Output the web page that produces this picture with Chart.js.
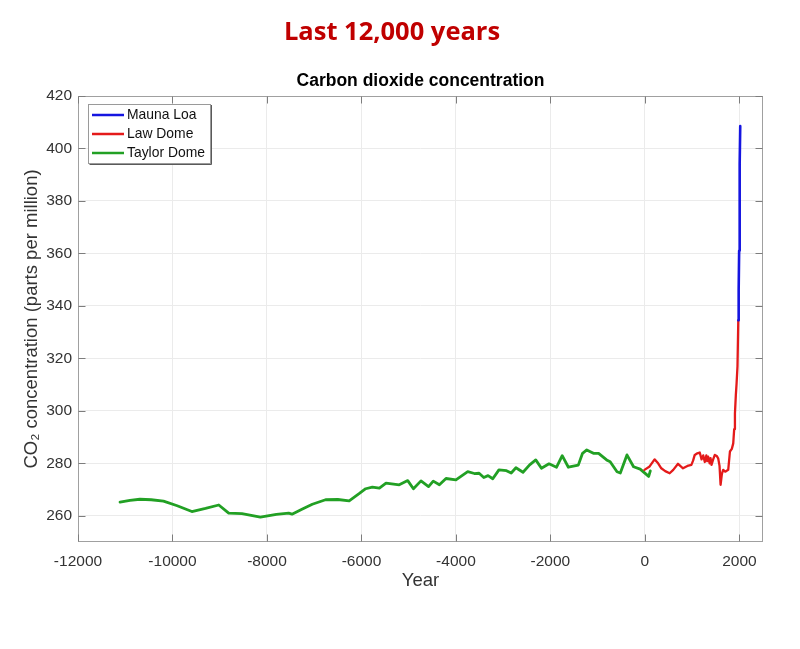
<!DOCTYPE html>
<html>
<head>
<meta charset="utf-8">
<title>Carbon dioxide concentration</title>
<script src="https://cdn.jsdelivr.net/npm/chart.js@4/dist/chart.umd.min.js"></script>
<style>
  html, body { margin: 0; padding: 0; background: #ffffff; }
  canvas { display: block; }
</style>
</head>
<body>
<canvas id="co2" width="800" height="649"></canvas>
<script>
// Headline above the chart
const headline = 'Last 12,000 years';

// Taylor Dome ice core (years, ppm)
const taylorYears = [-11110, -10900, -10690, -10450, -10190, -9900, -9590, -9300, -9020, -8810,
  -8530, -8140, -7800, -7540, -7470, -7260, -7040, -6760, -6500, -6260,
  -6050, -5910, -5770, -5620, -5480, -5200, -5020, -4900, -4740, -4580,
  -4480, -4350, -4210, -4000, -3750, -3610, -3510, -3410, -3320, -3220,
  -3090, -2930, -2830, -2730, -2580, -2440, -2310, -2190, -2030, -1870,
  -1750, -1620, -1410, -1320, -1230, -1090, -980, -810, -735, -590,
  -520, -380, -240, -100, 80, 115];
const taylorCO2 = [265.2, 265.9, 266.3, 266.1, 265.6, 263.8, 261.6, 262.8, 264.1, 261.0,
  260.8, 259.5, 260.5, 261.0, 260.6, 262.5, 264.4, 266.1, 266.2, 265.7,
  268.4, 270.3, 270.9, 270.5, 272.4, 271.8, 273.4, 270.3, 273.3, 271.1,
  273.2, 271.8, 274.2, 273.7, 276.8, 276.1, 276.2, 274.6, 275.3, 274.1,
  277.5, 277.2, 276.3, 278.3, 276.6, 279.4, 281.3, 278.1, 279.8, 278.5,
  282.9, 278.5, 279.3, 283.8, 285.1, 283.8, 283.8, 281.3, 280.6, 276.8,
  276.3, 283.2, 278.7, 277.8, 275.0, 277.1];

// Law Dome ice core (years, ppm)
const lawYears = [-10, 100, 205, 280, 347, 430, 524, 600, 701, 760,
  807, 900, 984, 1020, 1055, 1110, 1161, 1200, 1235, 1268,
  1300, 1320, 1339, 1370, 1390, 1410, 1445, 1480, 1520, 1551,
  1580, 1602, 1630, 1657, 1700, 1764, 1800, 1840, 1870, 1890,
  1906, 1925, 1941, 1960, 1977];
const lawCO2 = [277.5, 278.8, 281.5, 280.0, 278.1, 277.0, 276.2, 277.5, 279.8, 278.8,
  278.1, 279.0, 279.4, 281.0, 283.2, 283.8, 284.1, 281.5, 283.0, 280.5,
  283.0, 280.8, 282.5, 280.0, 282.0, 279.4, 281.5, 283.2, 282.8, 281.9,
  279.0, 271.8, 276.0, 277.5, 276.8, 277.5, 284.5, 285.5, 287.6, 293.0,
  299.0, 306.0, 310.5, 317.0, 334.5];

// Mauna Loa observatory (years, ppm)
const maunaYears = [1977, 1985, 1995, 2002, 2005, 2012, 2018];
const maunaCO2 = [334.5, 346.0, 361.0, 374.0, 380.0, 394.0, 408.5];

// Axis ticks
const xTicks = [-12000, -10000, -8000, -6000, -4000, -2000, 0, 2000];
const yTicks = [260, 280, 300, 320, 340, 360, 380, 400, 420];

const toPoints = (xs, ys) => xs.map((v, i) => ({ x: v, y: ys[i] }));

const FONT = "'Liberation Sans', Arial, sans-serif";

// Box around the plot, inward tick marks, inset legend and the headline
const framePlugin = {
  id: 'frame',
  afterDraw(chart) {
    const { ctx, chartArea: a, scales: { x, y } } = chart;
    const L = Math.round(a.left) + 0.5, R = Math.round(a.right) - 0.5;
    const T = Math.round(a.top) + 0.5, B = Math.round(a.bottom) - 0.5;
    ctx.save();

    ctx.strokeStyle = '#a0a0a0';
    ctx.lineWidth = 1;
    ctx.strokeRect(L, T, R - L, B - T);

    ctx.strokeStyle = '#7d7d7d';
    ctx.beginPath();
    x.ticks.forEach(t => {
      const px = Math.round(x.getPixelForValue(t.value)) + 0.5;
      ctx.moveTo(px, B); ctx.lineTo(px, B - 7);
      ctx.moveTo(px, T); ctx.lineTo(px, T + 7);
    });
    y.ticks.forEach(t => {
      const py = Math.round(y.getPixelForValue(t.value)) + 0.5;
      ctx.moveTo(L, py); ctx.lineTo(L + 7, py);
      ctx.moveTo(R, py); ctx.lineTo(R - 7, py);
    });
    ctx.stroke();

    // legend
    const lx = Math.round(a.left) + 10, ly = Math.round(a.top) + 8;
    const lw = 123, lh = 60;
    ctx.fillStyle = '#ffffff';
    ctx.fillRect(lx, ly, lw, lh);
    ctx.strokeStyle = '#5a5a5a';
    ctx.beginPath();
    ctx.moveTo(lx + 1.5, ly + lh + 0.5); ctx.lineTo(lx + lw + 0.5, ly + lh + 0.5); ctx.lineTo(lx + lw + 0.5, ly + 1);
    ctx.stroke();
    ctx.strokeStyle = '#9a9a9a';
    ctx.strokeRect(lx + 0.5, ly + 0.5, lw - 1, lh - 1);
    ctx.font = '13.9px ' + FONT;
    ctx.textAlign = 'left';
    ctx.textBaseline = 'middle';
    chart.data.datasets.forEach((ds, i) => {
      const ry = ly + 11 + i * 19;
      ctx.strokeStyle = ds.borderColor;
      ctx.lineWidth = 2.5;
      ctx.beginPath();
      ctx.moveTo(lx + 4, ry); ctx.lineTo(lx + 36, ry);
      ctx.stroke();
      ctx.fillStyle = '#111111';
      ctx.fillText(ds.label, lx + 39, ry + 0.5);
    });

    // headline
    ctx.font = "bold 25.5px 'Open Sans', Lato, sans-serif";
    ctx.fillStyle = '#c00000';
    ctx.textAlign = 'center';
    ctx.textBaseline = 'alphabetic';
    ctx.fillText(headline, 392, 40);

    ctx.restore();
  }
};

new Chart(document.getElementById('co2'), {
  type: 'line',
  data: {
    datasets: [
      { label: 'Mauna Loa', data: toPoints(maunaYears, maunaCO2), borderColor: '#1515e0', borderWidth: 2.6 },
      { label: 'Law Dome', data: toPoints(lawYears, lawCO2), borderColor: '#e41a1a', borderWidth: 2.3 },
      { label: 'Taylor Dome', data: toPoints(taylorYears, taylorCO2), borderColor: '#22a024', borderWidth: 2.8 }
    ]
  },
  options: {
    responsive: false,
    animation: false,
    elements: { point: { radius: 0 }, line: { tension: 0, borderJoinStyle: 'round', borderCapStyle: 'round' } },
    layout: { padding: { left: 0, right: 37, top: 0, bottom: 47 } },
    plugins: {
      legend: { display: false },
      tooltip: { enabled: false },
      title: {
        display: true,
        text: 'Carbon dioxide concentration',
        fullSize: false,
        color: '#000000',
        font: { family: FONT, size: 17.5, weight: 'bold' },
        padding: { top: 70.5, bottom: 4.5 }
      }
    },
    scales: {
      x: {
        type: 'linear',
        min: -12000,
        max: 2500,
        afterBuildTicks: s => { s.ticks = xTicks.map(v => ({ value: v })); },
        afterFit: s => { s.height = 60; },
        grid: { color: '#ebebeb', drawTicks: false },
        border: { display: false },
        ticks: { color: '#333333', font: { family: FONT, size: 15.5 }, padding: 10, maxRotation: 0, autoSkip: false, callback: v => String(v) },
        title: { display: true, text: 'Year', color: '#333333', font: { family: FONT, size: 18.5 }, padding: { top: 0, bottom: 10 } }
      },
      y: {
        type: 'linear',
        min: 250,
        max: 420,
        afterBuildTicks: s => { s.ticks = yTicks.map(v => ({ value: v })); },
        afterFit: s => { s.width = 78; },
        grid: { color: '#ebebeb', drawTicks: false },
        border: { display: false },
        ticks: { color: '#333333', font: { family: FONT, size: 15.5 }, padding: 6, autoSkip: false, callback: v => String(v) },
        title: { display: true, text: 'CO₂ concentration (parts per million)', color: '#333333', font: { family: FONT, size: 18.5 }, padding: { top: 21, bottom: 0 } }
      }
    }
  },
  plugins: [framePlugin]
});
</script>
</body>
</html>
